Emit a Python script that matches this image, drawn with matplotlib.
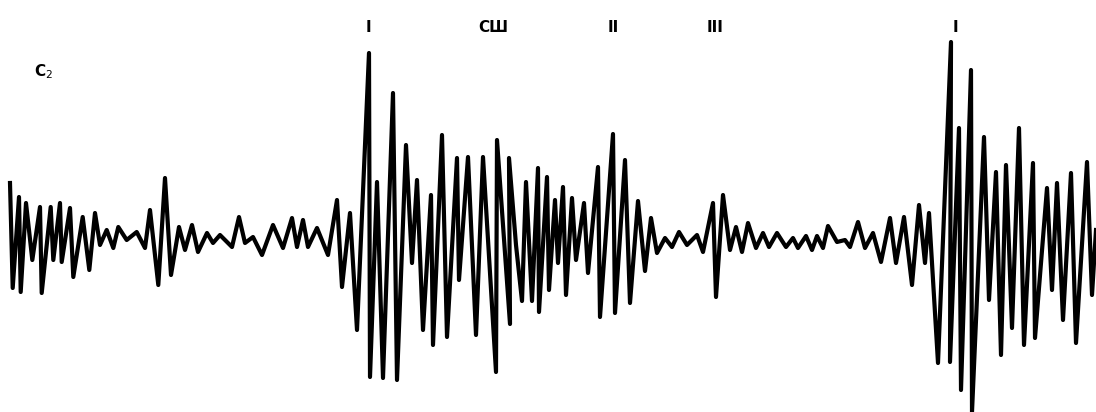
import matplotlib
matplotlib.use("Agg")
import matplotlib.pyplot as plt

# trace vertices: time (px) and deflection (px, down is positive)
t = [10, 12.7, 19, 20.7, 26, 32.3, 40, 41.7, 50.7, 53.3, 60, 61.7, 70, 73.3,
     82.7, 89.3, 95, 100, 106.7, 113.3, 118.3, 126.7, 136.7, 145, 150, 158.3,
     165, 171, 179, 185, 192, 198, 207, 213, 220, 232, 239, 245, 253, 262,
     273, 283, 292, 297, 303, 308, 317, 328, 337, 342, 350, 357, 369, 370,
     377, 383, 393, 397, 406, 412, 417, 423, 431, 433, 442, 447, 457, 459,
     468, 476, 483, 496, 497, 510, 509, 516, 522, 526, 532, 538, 539, 547, 549,
     555, 558, 563, 566, 572, 576, 584, 588, 598, 600, 613, 615, 625, 630,
     638, 645, 651, 657, 665, 672, 679, 687, 697, 703, 713, 716, 723, 730,
     736, 742, 748, 756, 763, 769, 777, 786, 793, 798, 806, 812, 817, 823,
     828, 837, 845, 850, 858, 865, 873, 881, 890, 896, 904, 912, 919, 925,
     929, 938, 951, 950, 959, 961, 971, 972, 984, 989, 996, 1001, 1006, 1012,
     1019, 1024, 1033, 1035, 1047, 1052, 1057, 1063, 1071, 1076, 1087, 1092,
     1096]
y_px = [183, 288, 197, 292, 203, 260, 207, 293, 207, 260, 203, 262, 208, 277,
        217, 270, 213, 245, 230, 248, 227, 240, 232, 248, 210, 285,
        178, 275, 227, 250, 225, 252, 233, 243, 235, 247, 217, 243, 237, 255,
        225, 248, 218, 247, 220, 247, 228, 255, 200, 287, 213, 330, 53, 377,
        182, 378, 93, 380, 145, 263, 180, 330, 195, 345, 135, 337, 158, 280,
        157, 335, 157, 372, 140, 324, 158, 245, 301, 182, 301, 168, 312, 177, 290,
        200, 263, 187, 295, 198, 260, 203, 273, 167, 317, 134, 313, 160, 303,
        201, 271, 218, 253, 238, 247, 232, 245, 235, 252, 203, 297, 195, 250,
        227, 252, 223, 248, 233, 247, 233, 247, 238, 248, 236, 250, 236, 248,
        226, 242, 240, 247, 222, 248, 233, 262, 218, 263, 217, 285, 205, 263,
        213, 363, 42, 362, 128, 390, 70, 412, 137, 300, 172, 355, 165, 328,
        128, 345, 163, 338, 188, 290, 183, 320, 173, 343, 162, 295,
        230]

baseline = 240
amp = [baseline - v for v in y_px]

# sound markers above the trace
marker_labels = ["I", "СШ", "II", "III", "I"]
marker_t = [368, 493, 613, 715, 955]

fig = plt.figure(figsize=(10.96, 4.12), dpi=100)
ax = fig.add_axes([0, 0, 1, 1])
ax.plot(t, amp, color="black", lw=3.0, solid_joinstyle="round")

for lab, xm in zip(marker_labels, marker_t):
    ax.text(xm, baseline - 28, lab, ha="center", va="center",
            fontsize=11, fontweight="bold")
ax.text(44, baseline - 72, "С$_2$", ha="center", va="center",
        fontsize=11, fontweight="bold")

ax.set_xlim(0, 1096)
ax.set_ylim(baseline - 412, baseline)
ax.axis("off")

fig.savefig("out.png", dpi=100)
